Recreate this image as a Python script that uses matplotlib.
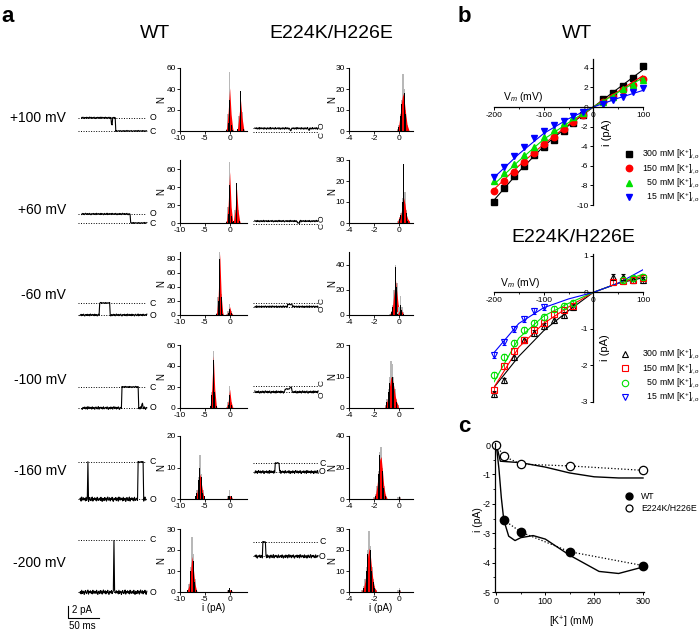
import numpy as np
import matplotlib
matplotlib.use('Agg')
import matplotlib.pyplot as plt
from matplotlib.lines import Line2D

plt.rcParams['font.family'] = ['Liberation Sans', 'DejaVu Sans']
plt.rcParams['mathtext.fontset'] = 'custom'
plt.rcParams['mathtext.rm'] = 'Liberation Sans'
plt.rcParams['mathtext.it'] = 'Liberation Sans:italic'
plt.rcParams['axes.unicode_minus'] = False

# ---------------- data ----------------
row_labels = ['+100 mV', '+60 mV', '-60 mV', '-100 mV', '-160 mV', '-200 mV']

# single channel traces: segments (t0, t1, fraction open), t in ms
wt_open_pa = [2.2, 1.5, -2.0, -3.5, -6.2, -8.7]
wt_segments = [
    [(6, 54, 1), (54, 56, 0.5), (56, 61, 1), (61, 111, 0)],
    [(6, 85, 1), (85, 111, 0)],
    [(3, 35, 1), (35, 52, 0), (52, 111, 1)],
    [(6, 71, 1), (71, 98, 0), (98, 103, 1), (103, 105, 0.8), (105, 111, 1)],
    [(3, 16, 1), (16, 17, 0), (17, 97, 1), (97, 106, 0), (106, 110, 1)],
    [(3, 58, 1), (58, 59, 0), (59, 111, 1)],
]
wt_noise = [(0.14, 0.1), (0.14, 0.1), (0.18, 0.1), (0.25, 0.12), (0.4, 0.12), (0.4, 0.12)]

mut_open_pa = [0.6, 0.4, -0.6, -1.0, -1.5, -2.4]
mut_segments = [
    [(3, 60, 1), (60, 62, 0.4), (62, 90, 1), (90, 92, 0.5), (92, 105, 1)],
    [(3, 72, 1), (72, 76, 0.2), (76, 105, 1)],
    [(3, 56, 1), (56, 64, 0.4), (64, 105, 1)],
    [(3, 52, 1), (52, 60, 0.5), (60, 63, 0.2), (63, 105, 1)],
    [(3, 36, 1), (36, 43, 0), (43, 105, 1)],
    [(3, 16, 1), (16, 21, 0), (21, 105, 1)],
]
mut_noise = [(0.17, 0.08), (0.14, 0.08), (0.14, 0.08), (0.22, 0.08), (0.28, 0.1), (0.32, 0.1)]

noise = [0.3, -0.5, 0.8, -0.2, -0.9, 0.4, 0.1, -0.6, 0.7, -0.3, 0.5, -0.8, 0.2, 0.9, -0.4,
         -0.1, 0.6, -0.7, 0.3, -0.2, 0.8, -0.5, -0.9, 0.4, 0.2, -0.3, 0.7, -0.6, 0.1, 0.5,
         -0.8, 0.9, -0.1, -0.4, 0.6, -0.2, 0.3, -0.7, 0.8, -0.5, 0.2, 0.4, -0.9, 0.1, 0.7,
         -0.3, -0.6, 0.5, 0.9, -0.8, 0.3, -0.1, 0.6, -0.4, 0.2, -0.7, 0.8, -0.2, -0.5, 0.4]

# amplitude histograms: per row list of peaks (centre, grey counts, black counts, red fit)
wt_bw = 0.3
wt_hist = [
    [(0.0, [2, 16, 56, 12, 2], [1, 8, 30, 6, 1], [3, 18, 41, 16, 3]),
     (2.2, [2, 14, 38, 18, 3], [2, 14, 38, 16, 2], [3, 15, 29, 13, 3])],
    [(0.0, [2, 18, 68, 14, 2], [1, 10, 42, 8, 1], [3, 20, 57, 18, 3]),
     (1.4, [2, 14, 45, 14, 2], [2, 14, 45, 14, 2], [3, 14, 38, 14, 3])],
    [(-2.0, [3, 25, 90, 30, 3], [2, 20, 80, 26, 2], [4, 28, 88, 28, 4]),
     (0.0, [1, 5, 15, 5, 1], [0, 3, 9, 3, 0], [1, 4, 12, 4, 1])],
    [(-3.3, [2, 15, 54, 18, 2], [2, 12, 46, 15, 2], [3, 18, 50, 18, 3]),
     (0.0, [1, 6, 21, 6, 1], [0, 3, 12, 3, 0], [1, 6, 18, 6, 1])],
    [(-6.0, [1, 3, 7, 14, 8, 3, 1], [1, 2, 6, 10, 7, 2, 1], [0, 2, 5, 8, 5, 2, 0]),
     (0.0, [0, 1, 3, 1, 0], [0, 1, 1, 1, 0], [0, 1, 1, 1, 0])],
    [(-7.6, [1, 4, 12, 26, 18, 6, 1], [1, 3, 10, 22, 15, 5, 1], [1, 3, 9, 17, 11, 4, 1]),
     (0.0, [0, 1, 2, 1, 0], [0, 1, 2, 1, 0], [0, 1, 1, 1, 0])],
]
wt_ylim = [60, 70, 90, 60, 20, 30]
wt_yticks = [[0, 20, 40, 60], [0, 20, 40, 60], [0, 20, 40, 60, 80], [0, 20, 40, 60], [0, 10, 20], [0, 10, 20, 30]]

mut_bw = 0.11
mut_hist = [
    [(0.3, [1, 3, 8, 15, 27, 20, 10, 3, 1], [0, 2, 7, 13, 22, 18, 8, 2, 0], [1, 3, 8, 14, 18, 14, 8, 3, 1])],
    [(0.35, [1, 3, 5, 12, 28, 15, 6, 2, 1], [0, 2, 4, 10, 28, 12, 5, 1, 0], [1, 2, 4, 8, 12, 9, 4, 2, 1]),
     (0.0, [1, 3, 1], [0, 2, 0], [1, 3, 1])],
    [(-0.3, [1, 3, 8, 20, 40, 25, 8, 3, 1], [0, 2, 6, 18, 38, 22, 6, 2, 0], [1, 3, 8, 18, 28, 18, 8, 3, 1]),
     (0.1, [2, 6, 15, 6, 2], [1, 4, 8, 4, 1], [1, 3, 5, 3, 1])],
    [(-0.6, [1, 3, 6, 10, 15, 14, 10, 6, 3, 1], [0, 2, 5, 8, 11, 10, 8, 4, 2, 0], [1, 2, 4, 7, 10, 9, 7, 4, 2, 1])],
    [(-1.5, [1, 3, 8, 18, 30, 33, 20, 8, 3, 1], [0, 2, 7, 16, 28, 32, 18, 7, 2, 0], [1, 3, 8, 16, 25, 27, 18, 8, 3, 1]),
     (0.0, [1, 2, 1], [0, 1, 0], [0, 1, 0])],
    [(-2.4, [1, 3, 6, 12, 20, 29, 22, 12, 6, 3, 1], [0, 2, 5, 10, 18, 25, 20, 10, 5, 2, 0], [1, 2, 5, 10, 17, 21, 17, 10, 5, 2, 1]),
     (0.0, [1, 2, 1], [0, 1, 0], [0, 1, 0])],
]
mut_ylim = [30, 30, 50, 20, 40, 30]
mut_yticks = [[0, 10, 20, 30], [0, 10, 20, 30], [0, 20, 40], [0, 10, 20], [0, 20, 40], [0, 10, 20, 30]]

# panel b: I-V relations
conc_labels = ['300 mM [K$^{+}$]$_{i,o}$', '150 mM [K$^{+}$]$_{i,o}$',
               '  50 mM [K$^{+}$]$_{i,o}$', '  15 mM [K$^{+}$]$_{i,o}$']
conc_colors = ['black', '#ff0000', '#00e000', '#0000ff']
wt_v = [-200, -180, -160, -140, -120, -100, -80, -60, -40, -20, 20, 40, 60, 80, 100]
wt_iv = [
    [-9.66, -8.3, -7.04, -6.0, -4.9, -4.05, -3.37, -2.45, -1.67, -0.82, 0.78, 1.4, 2.14, 3.0, 4.2],
    [-8.57, -7.55, -6.6, -5.65, -4.66, -3.78, -3.03, -2.24, -1.5, -0.82, 0.54, 1.05, 1.73, 2.24, 2.86],
    [-7.6, -6.77, -5.85, -4.9, -4.05, -3.03, -2.35, -1.67, -0.99, -0.65, 0.54, 1.05, 1.8, 2.24, 2.76],
    [-7.1, -6.1, -5.0, -4.1, -3.13, -2.45, -1.84, -1.4, -0.92, -0.48, 0.3, 0.71, 1.05, 1.5, 1.9],
]
fit_v = [-200, -150, -100, -50, 0, 50, 100]
wt_fit = [
    [-9.5, -6.6, -4.0, -1.9, 0, 1.9, 3.8],
    [-8.4, -6.0, -3.8, -1.8, 0, 1.6, 3.2],
    [-7.9, -5.5, -3.3, -1.6, 0, 1.5, 3.0],
    [-7.2, -4.8, -2.7, -1.2, 0, 0.9, 1.7],
]
mut_v = [
    [-200, -180, -160, -140, -120, -100, -80, -60, -40, 40, 60, 80, 100],
    [-200, -180, -160, -140, -120, -100, -80, -60, -40, 40, 60, 80, 100],
    [-200, -180, -160, -140, -120, -100, -80, -60, -40, 60, 80, 100],
    [-200, -180, -160, -140, -120, -100],
]
mut_iv = [
    [-2.77, -2.41, -1.77, -1.31, -1.12, -0.92, -0.76, -0.62, -0.41, 0.41, 0.41, 0.34, 0.34],
    [-2.66, -2.02, -1.61, -1.29, -1.03, -0.83, -0.6, -0.48, -0.37, 0.29, 0.32, 0.34, 0.39],
    [-2.27, -1.78, -1.38, -1.03, -0.83, -0.68, -0.46, -0.37, -0.3, 0.35, 0.38, 0.43],
    [-1.72, -1.35, -1.01, -0.74, -0.5, -0.41],
]
mut_fit = [
    [-2.6, -1.75, -1.05, -0.5, 0, 0.25, 0.4],
    [-2.6, -1.5, -0.85, -0.4, 0, 0.25, 0.45],
    [-2.45, -1.25, -0.65, -0.3, 0, 0.25, 0.5],
    [-1.65, -0.85, -0.42, -0.18, 0, 0.25, 0.62],
]

# panel c: current vs [K+]
k_conc = [15, 50, 150, 300]
wt_i = [-2.55, -2.96, -3.63, -4.1]
mut_k = [0, 15, 50, 150, 300]
mut_i = [0.0, -0.38, -0.65, -0.71, -0.86]
wt_curve_k = [0, 5, 10, 15, 25, 38, 50, 75, 100, 150, 210, 250, 300]
wt_curve_i = [-0.05, -0.8, -1.8, -2.55, -3.1, -3.25, -3.15, -3.08, -3.2, -3.75, -4.3, -4.37, -4.15]
mut_curve_k = [0, 8, 50, 100, 150, 200, 250, 300]
mut_curve_i = [0.0, -0.55, -0.6, -0.75, -0.95, -1.08, -1.12, -1.12]

# ---------------- layout helpers ----------------
W, H = 700, 633
fig = plt.figure(figsize=(W / 100, H / 100), dpi=100)


def pax(l, t, w, h):
    return fig.add_axes([l / W, 1 - (t + h) / H, w / W, h / H])


def ftext(x, y, s, **kw):
    kw.setdefault('ha', 'center')
    kw.setdefault('va', 'center')
    fig.text(x / W, 1 - y / H, s, **kw)


PX_PER_PA = 6.0
PX_PER_MS = 0.62


def make_trace(segs, i_open, amps, shift):
    t = np.arange(segs[0][0], segs[-1][1] + 1)
    y = np.zeros(len(t))
    for k, tk in enumerate(t):
        frac = segs[-1][2]
        for t0, t1, f in segs:
            if t0 <= tk < t1:
                frac = f
                break
        amp = amps[0] if frac > 0.5 else amps[1]
        y[k] = frac * i_open + amp * noise[(k + shift) % len(noise)]
    return t, y


def draw_trace(l, w, yc, segs, i_open, amps, shift, dot_end, lab_t, rotate):
    ax = pax(l, yc - 65, w, 130)
    ax.set_xlim(0, w / PX_PER_MS)
    ax.set_ylim(-65 / PX_PER_PA, 65 / PX_PER_PA)
    ax.axis('off')
    ax.hlines([0, i_open], 0, dot_end, colors='black', linestyles=(0, (1, 1.6)), lw=0.7)
    t, y = make_trace(segs, i_open, amps, shift)
    ax.plot(t, y, color='black', lw=0.8)
    if rotate:
        off = 2.5 / PX_PER_PA
        up = 'O' if i_open > 0 else 'C'
        dn = 'C' if i_open > 0 else 'O'
        ax.text(lab_t, max(0, i_open) + off, up, fontsize=6, rotation=90, ha='left', va='center')
        ax.text(lab_t, min(0, i_open) - off, dn, fontsize=6, rotation=90, ha='left', va='center')
    else:
        ax.text(lab_t, 0, 'C', fontsize=6.3, ha='left', va='center')
        ax.text(lab_t, i_open, 'O', fontsize=6.3, ha='left', va='center')
    return ax


def draw_hist(ax, peaks, bw, ylim, yticks, xlim, xticks):
    for c, grey, black, red in peaks:
        n = len(grey)
        xs = c + (np.arange(n) - (n - 1) / 2) * bw
        ax.bar(xs, grey, width=bw, color='0.72', lw=0)
        xr = np.concatenate([[xs[0] - bw / 2], xs, [xs[-1] + bw / 2]])
        yr = np.concatenate([[0], red, [0]])
        ax.fill_between(xr, yr, color='#ff0000', lw=0)
        ax.bar(xs, black, width=bw * 0.55, color='black', lw=0)
    ax.set_xlim(*xlim)
    ax.set_ylim(0, ylim)
    ax.set_xticks(xticks)
    ax.set_yticks(yticks)
    for s in ['top', 'right']:
        ax.spines[s].set_visible(False)
    for s in ['left', 'bottom']:
        ax.spines[s].set_linewidth(0.8)
    ax.tick_params(labelsize=6, length=2, width=0.6, pad=1)


# ---------------- panel a ----------------
hist_bottoms = [131, 223, 315, 408, 499, 592]
label_y = [118, 210, 295, 380, 471, 563]
wt_closed_px = [131, 223, 303, 387, 462, 540]
mut_closed_px = [132, 223.5, 303, 386, 463, 542]

ftext(8, 17, 'a', fontsize=16, fontweight='bold')
ftext(155, 33, 'WT', fontsize=14)
ftext(331, 33, 'E224K/H226E', fontsize=14)

for r in range(6):
    ftext(66, label_y[r], row_labels[r], fontsize=10, ha='right')
    draw_trace(78, 70, wt_closed_px[r], wt_segments[r], wt_open_pa[r], wt_noise[r],
               r * 7, 108, 115, False)
    draw_trace(253, 66, mut_closed_px[r], mut_segments[r], mut_open_pa[r], mut_noise[r],
               r * 11 + 23, 105, 106.5, r < 4)

    axh = pax(180, hist_bottoms[r] - 63, 67, 63)
    draw_hist(axh, wt_hist[r], wt_bw, wt_ylim[r], wt_yticks[r], (-10, 3.5), [-10, -5, 0])
    axh.set_ylabel('N', fontsize=7)
    axh.yaxis.set_label_coords(-0.2, 0.5)
    axm = pax(349, hist_bottoms[r] - 63, 64, 63)
    draw_hist(axm, mut_hist[r], mut_bw, mut_ylim[r], mut_yticks[r], (-4, 1.1), [-4, -2, 0])
    axm.set_ylabel('N', fontsize=7)
    axm.yaxis.set_label_coords(-0.19, 0.5)
    if r == 5:
        axh.set_xlabel('i (pA)', fontsize=7, labelpad=0)
        axm.set_xlabel('i (pA)', fontsize=7, labelpad=0)

# scale bar
axs = pax(60, 596, 60, 30)
axs.set_xlim(-8 / PX_PER_MS, 52 / PX_PER_MS)
axs.set_ylim(-8 / PX_PER_PA, 22 / PX_PER_PA)
axs.axis('off')
axs.plot([0, 0, 50], [2, 0, 0], color='black', lw=0.8)
axs.text(6, 1.3, '2 pA', fontsize=7, ha='left', va='center')
ftext(82, 626, '50 ms', fontsize=7)

# ---------------- panel b ----------------
ftext(464, 17, 'b', fontsize=16, fontweight='bold')
ftext(577, 33, 'WT', fontsize=14)
ftext(573, 237, 'E224K/H226E', fontsize=14)


def style_iv(ax, ylim, yticks):
    ax.set_xlim(-200, 100)
    ax.set_ylim(*ylim)
    for s in ['top', 'right']:
        ax.spines[s].set_visible(False)
    ax.spines['left'].set_position(('data', 0))
    ax.spines['bottom'].set_position(('data', 0))
    for s in ['left', 'bottom']:
        ax.spines[s].set_linewidth(0.9)
    ax.set_xticks([-200, -100, 0, 100])
    ax.set_xticks([-150, -50, 50], minor=True)
    ax.set_yticks(yticks)
    ax.tick_params(labelsize=6, length=2.5, width=0.7, pad=1)
    ax.tick_params(which='minor', length=1.5, width=0.6)


LEG_FS = 6.3
axb1 = pax(494, 59, 149, 146)
style_iv(axb1, (-10, 4.9), [-10, -8, -6, -4, -2, 0, 2, 4])
markers_wt = ['s', 'o', '^', 'v']
handles = []
for k in range(4):
    axb1.plot(fit_v, wt_fit[k], color=conc_colors[k], lw=0.8)
    axb1.plot(wt_v, wt_iv[k], ls='none', marker=markers_wt[k], ms=4.6,
              color=conc_colors[k], clip_on=False)
    handles.append(Line2D([], [], ls='none', marker=markers_wt[k], ms=4.6, color=conc_colors[k]))
axb1.legend(handles, conc_labels, loc='upper left', bbox_to_anchor=(624 / W, 1 - 148 / H),
            bbox_transform=fig.transFigure, frameon=False, fontsize=LEG_FS, handlelength=1.1,
            handletextpad=1.0, labelspacing=0.12, borderpad=0, borderaxespad=0)
ftext(523, 97, 'V$_{m}$ (mV)', fontsize=7.5)
ftext(607, 133, 'i (pA)', fontsize=8, rotation=90)

axb2 = pax(494, 254, 149, 148)
style_iv(axb2, (-3, 1.05), [-3, -2, -1, 0, 1])
markers_mut = ['^', 's', 'o', 'v']
handles = []
for k in range(4):
    axb2.plot(fit_v, mut_fit[k], color=conc_colors[k], lw=0.8)
    axb2.errorbar(mut_v[k], mut_iv[k], yerr=0.08, ls='none', marker=markers_mut[k], ms=4.6,
                  mfc='none', mec=conc_colors[k], mew=0.8, ecolor=conc_colors[k],
                  elinewidth=0.6, capsize=1.5, capthick=0.6, clip_on=False)
    handles.append(Line2D([], [], ls='none', marker=markers_mut[k], ms=4.6, mfc='none',
                          mec=conc_colors[k], mew=0.8))
axb2.legend(handles, conc_labels, loc='upper left', bbox_to_anchor=(620 / W, 1 - 348 / H),
            bbox_transform=fig.transFigure, frameon=False, fontsize=LEG_FS, handlelength=1.1,
            handletextpad=1.4, labelspacing=0.12, borderpad=0, borderaxespad=0)
ftext(520, 283, 'V$_{m}$ (mV)', fontsize=7.5)
ftext(605, 348, 'i (pA)', fontsize=8, rotation=90)

# ---------------- panel c ----------------
ftext(464, 427, 'c', fontsize=16, fontweight='bold')
axc = pax(495, 443, 149, 149)
axc.plot(wt_curve_k, wt_curve_i, color='black', lw=1.0)
axc.plot(mut_curve_k, mut_curve_i, color='black', lw=1.0)
axc.plot(k_conc, wt_i, color='black', lw=0.9, ls=':')
axc.plot(mut_k, mut_i, color='black', lw=0.9, ls=':')
axc.plot(k_conc, wt_i, ls='none', marker='o', ms=6, color='black', clip_on=False)
axc.plot(mut_k, mut_i, ls='none', marker='o', ms=6, mfc='white', mec='black', mew=0.9,
         clip_on=False)
axc.set_xlim(-3, 302)
axc.set_ylim(-5, 0.07)
axc.set_xticks([0, 100, 200, 300])
axc.set_xticks([50, 150, 250], minor=True)
axc.set_yticks([0, -1, -2, -3, -4, -5])
axc.set_yticks([-0.5, -1.5, -2.5, -3.5, -4.5], minor=True)
for s in ['top', 'right']:
    axc.spines[s].set_visible(False)
for s in ['left', 'bottom']:
    axc.spines[s].set_linewidth(0.9)
axc.tick_params(labelsize=6.5, length=2.5, width=0.7, pad=1)
axc.tick_params(which='minor', length=1.5, width=0.6)
hc = [Line2D([], [], ls='none', marker='o', ms=5, color='black'),
      Line2D([], [], ls='none', marker='o', ms=5, mfc='white', mec='black', mew=0.9)]
axc.legend(hc, ['WT', 'E224K/H226E'], loc='upper left', bbox_to_anchor=(625 / W, 1 - 492 / H),
           bbox_transform=fig.transFigure, frameon=False, fontsize=6.3, handlelength=1,
           handletextpad=0.8, labelspacing=0.3, borderpad=0, borderaxespad=0)
ftext(478, 520, 'i (pA)', fontsize=7.5, rotation=90)
ftext(572, 622, '[K$^{+}$] (mM)', fontsize=7.5)

fig.savefig('out.png', dpi=100)
